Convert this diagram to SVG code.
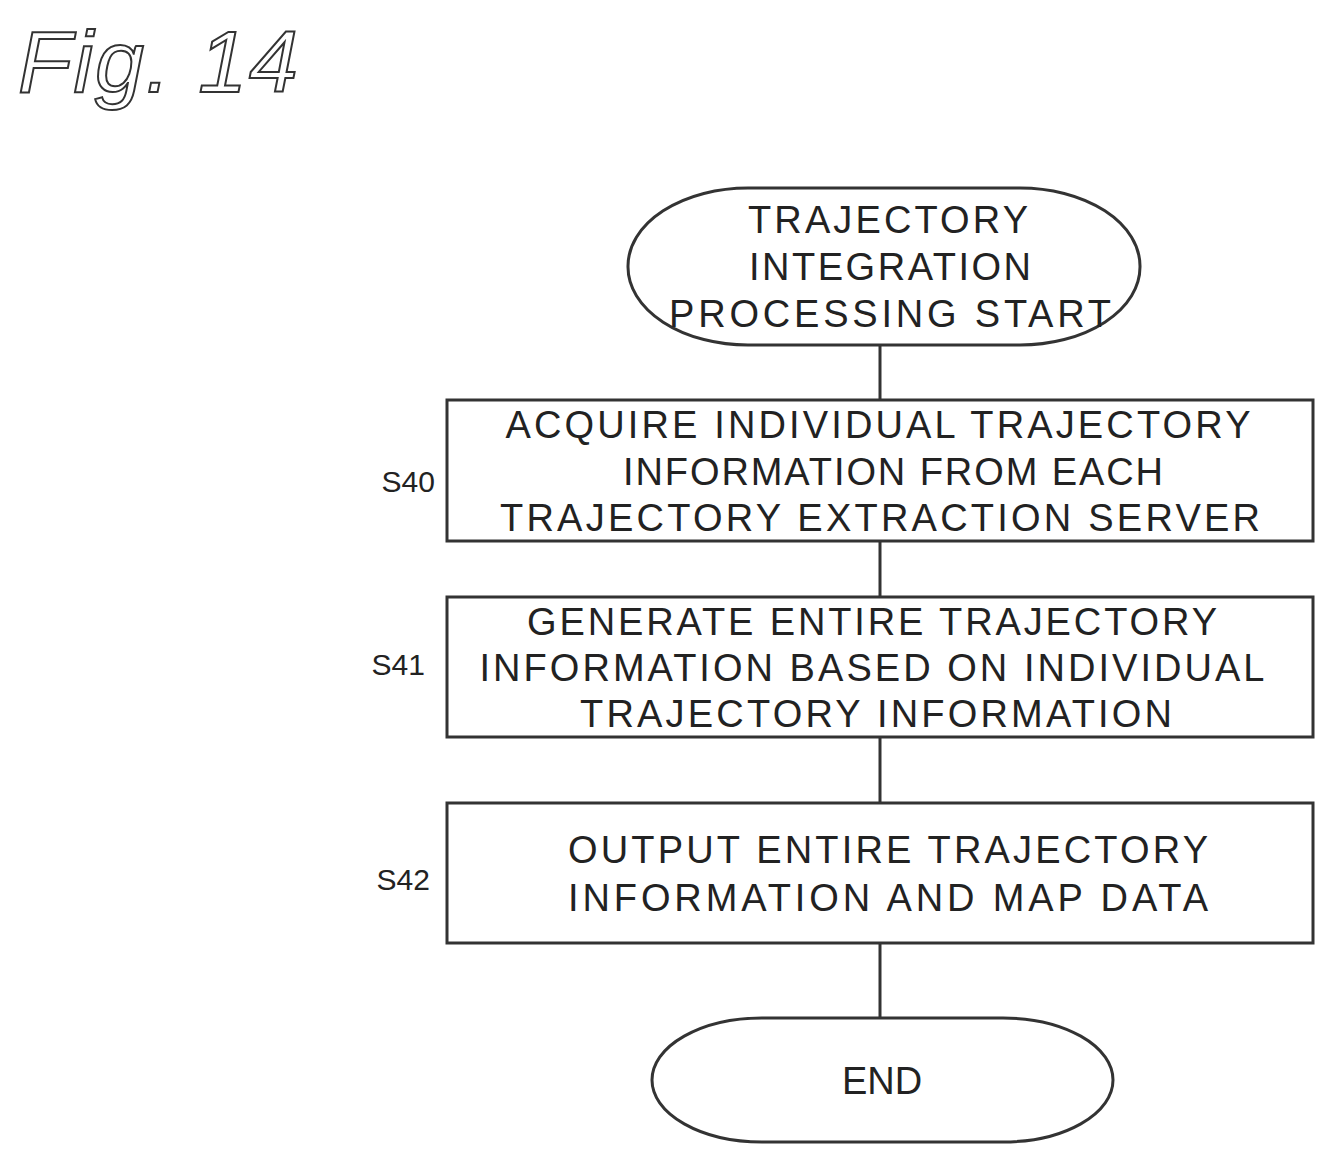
<svg xmlns="http://www.w3.org/2000/svg" width="1338" height="1163" viewBox="0 0 1338 1163">
<style>
.t{font-family:"Liberation Sans",Arial,sans-serif;font-size:38px;fill:#222;text-anchor:middle}
.l{font-family:"Liberation Sans",Arial,sans-serif;font-size:30px;fill:#222;text-anchor:end}
.s{fill:#fff;stroke:#333;stroke-width:3}
.c{stroke:#333;stroke-width:3;fill:none}
</style>
<rect width="1338" height="1163" fill="#fff"/>
<text x="18" y="92" font-family="Liberation Sans,Arial,sans-serif" font-style="italic" font-size="88" fill="#fff" stroke="#333" stroke-width="2" textLength="280">Fig. 14</text>
<g id="connectors">
<line class="c" x1="880" y1="345" x2="880" y2="400"/>
<line class="c" x1="880" y1="541" x2="880" y2="597"/>
<line class="c" x1="880" y1="737" x2="880" y2="803"/>
<line class="c" x1="880" y1="943" x2="880" y2="1018"/>
</g>
<g id="start">
<rect class="s" x="628" y="188" width="512" height="157" rx="120" ry="78"/>
<text class="t" x="888" y="233" textLength="280">TRAJECTORY</text>
<text class="t" x="890" y="280" textLength="282">INTEGRATION</text>
<text class="t" x="890" y="327" textLength="442">PROCESSING START</text>
</g>
<g id="s40">
<rect class="s" x="447" y="400" width="866" height="141"/>
<text class="t" x="878" y="438" textLength="745">ACQUIRE INDIVIDUAL TRAJECTORY</text>
<text class="t" x="893" y="485" textLength="540">INFORMATION FROM EACH</text>
<text class="t" x="880" y="531" textLength="760">TRAJECTORY EXTRACTION SERVER</text>
<text class="l" x="435" y="492">S40</text>
</g>
<g id="s41">
<rect class="s" x="447" y="597" width="866" height="140"/>
<text class="t" x="872" y="635" textLength="690">GENERATE ENTIRE TRAJECTORY</text>
<text class="t" x="872" y="681" textLength="785">INFORMATION BASED ON INDIVIDUAL</text>
<text class="t" x="876" y="727" textLength="592">TRAJECTORY INFORMATION</text>
<text class="l" x="425" y="675">S41</text>
</g>
<g id="s42">
<rect class="s" x="447" y="803" width="866" height="140"/>
<text class="t" x="888" y="863" textLength="640">OUTPUT ENTIRE TRAJECTORY</text>
<text class="t" x="888" y="911" textLength="640">INFORMATION AND MAP DATA</text>
<text class="l" x="430" y="890">S42</text>
</g>
<g id="end">
<rect class="s" x="652" y="1018" width="461" height="124" rx="110" ry="62"/>
<text class="t" x="882" y="1094">END</text>
</g>
</svg>
